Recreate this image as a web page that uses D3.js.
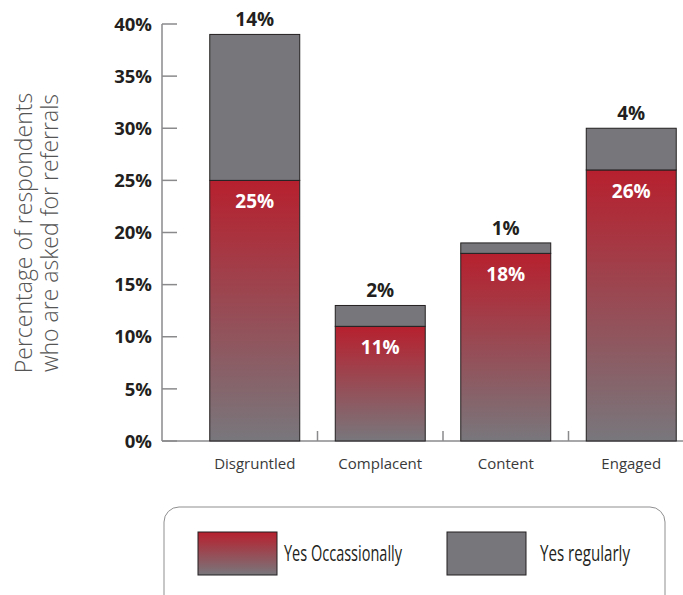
<!DOCTYPE html>
<html>
<head>
<meta charset="utf-8">
<script src="https://cdn.jsdelivr.net/npm/d3@7/dist/d3.min.js"></script>
<style>
  html, body { margin: 0; padding: 0; background: #fff; }
  svg { display: block; }
</style>
</head>
<body>
<script>
// Share of respondents asked for referrals, by customer segment
const categories = ["Disgruntled", "Complacent", "Content", "Engaged"];
const occasionally = [25, 11, 18, 26];
const regularly = [14, 2, 1, 4];
const yTicks = [0, 5, 10, 15, 20, 25, 30, 35, 40];
const seriesNames = ["Yes Occassionally", "Yes regularly"];

const W = 683, H = 595;
const svg = d3.select("body").append("svg").attr("width", W).attr("height", H);

const ink = "#231f20";
const axisGray = "#8a8a8c";
const barGray = "#77777b";

const defs = svg.append("defs");
const grad = defs.append("linearGradient")
  .attr("id", "occGrad").attr("x1", 0).attr("y1", 0).attr("x2", 0).attr("y2", 1);
grad.append("stop").attr("offset", "0%").attr("stop-color", "#b7202e");
grad.append("stop").attr("offset", "100%").attr("stop-color", "#78777c");

const axisX = 162, baseY = 441;
const y = d3.scaleLinear().domain([0, 40]).range([baseY, 24]);
const x = d3.scaleBand().domain(categories).range([192, 694])
  .paddingInner(0.283).paddingOuter(0.1415);

const font = "'Open Sans', 'DejaVu Sans', sans-serif";

// Y axis: line, inward ticks, bold percentage labels
const yAxis = svg.append("g");
yAxis.append("line").attr("x1", axisX).attr("x2", axisX)
  .attr("y1", y(40)).attr("y2", baseY).attr("stroke", axisGray).attr("stroke-width", 1.5);
yAxis.selectAll("line.tick").data(yTicks).join("line").attr("class", "tick")
  .attr("x1", axisX).attr("x2", axisX + 15)
  .attr("y1", d => y(d)).attr("y2", d => y(d))
  .attr("stroke", axisGray).attr("stroke-width", 1.5);
yAxis.selectAll("text").data(yTicks).join("text")
  .attr("x", 152).attr("y", d => y(d)).attr("dy", "0.36em")
  .attr("text-anchor", "end")
  .attr("font-family", font).attr("font-weight", 700).attr("font-size", 18.5)
  .attr("fill", ink).text(d => d + "%");

// X axis baseline and category separators
svg.append("line").attr("x1", axisX).attr("x2", 683)
  .attr("y1", baseY).attr("y2", baseY).attr("stroke", axisGray).attr("stroke-width", 1.5);
const separators = categories.slice(1).map(c => x(c) - x.step() * x.paddingInner() / 2);
svg.selectAll("line.sep").data(separators).join("line").attr("class", "sep")
  .attr("x1", d => d).attr("x2", d => d)
  .attr("y1", baseY).attr("y2", baseY - 10)
  .attr("stroke", axisGray).attr("stroke-width", 1.5);

// Category labels
svg.selectAll("text.cat").data(categories).join("text").attr("class", "cat")
  .attr("x", d => x(d) + x.bandwidth() / 2).attr("y", 469)
  .attr("text-anchor", "middle")
  .attr("font-family", font).attr("font-size", 15).attr("fill", "#3a3a3a")
  .text(d => d);

// Stacked bars
const rows = categories.map((c, i) => ({ c, occ: occasionally[i], reg: regularly[i] }));
const bars = svg.append("g");
bars.selectAll("rect.occ").data(rows).join("rect").attr("class", "occ")
  .attr("x", d => x(d.c)).attr("width", x.bandwidth())
  .attr("y", d => y(d.occ)).attr("height", d => y(0) - y(d.occ))
  .attr("fill", "url(#occGrad)").attr("stroke", ink).attr("stroke-width", 1);
bars.selectAll("rect.reg").data(rows).join("rect").attr("class", "reg")
  .attr("x", d => x(d.c)).attr("width", x.bandwidth())
  .attr("y", d => y(d.occ + d.reg)).attr("height", d => y(d.occ) - y(d.occ + d.reg))
  .attr("fill", barGray).attr("stroke", ink).attr("stroke-width", 1);

// Value labels
bars.selectAll("text.occ").data(rows).join("text").attr("class", "occ")
  .attr("x", d => x(d.c) + x.bandwidth() / 2).attr("y", d => y(d.occ) + 28)
  .attr("text-anchor", "middle")
  .attr("font-family", font).attr("font-weight", 700).attr("font-size", 19)
  .attr("fill", "#fff").text(d => d.occ + "%");
bars.selectAll("text.reg").data(rows).join("text").attr("class", "reg")
  .attr("x", d => x(d.c) + x.bandwidth() / 2).attr("y", d => y(d.occ + d.reg) - 8)
  .attr("text-anchor", "middle")
  .attr("font-family", font).attr("font-weight", 700).attr("font-size", 19)
  .attr("fill", ink).text(d => d.reg + "%");

// Y axis title
const title = svg.append("text")
  .attr("transform", "translate(24,233) rotate(-90)")
  .attr("text-anchor", "middle")
  .attr("font-family", font).attr("font-weight", 300).attr("font-size", 23)
  .attr("fill", "#555");
title.append("tspan").attr("x", 0).attr("dy", "0.35em").text("Percentage of respondents");
title.append("tspan").attr("x", 0).attr("dy", 26).text("who are asked for referrals");

// Legend
const legend = svg.append("g");
legend.append("rect").attr("x", 164).attr("y", 507).attr("width", 501).attr("height", 110)
  .attr("rx", 15).attr("fill", "none").attr("stroke", "#8f8f91").attr("stroke-width", 1);
const legendItems = [
  { name: seriesNames[0], fill: "url(#occGrad)", sx: 198, tx: 284, len: 118 },
  { name: seriesNames[1], fill: barGray, sx: 447, tx: 540, len: 90 }
];
legend.selectAll("rect.sw").data(legendItems).join("rect").attr("class", "sw")
  .attr("x", d => d.sx).attr("y", 532).attr("width", 79).attr("height", 43)
  .attr("fill", d => d.fill).attr("stroke", ink).attr("stroke-width", 1);
legend.selectAll("text").data(legendItems).join("text")
  .attr("x", d => d.tx).attr("y", 554).attr("dy", "0.35em")
  .attr("font-family", font)
  .attr("font-size", 21).attr("fill", ink)
  .attr("textLength", d => d.len).attr("lengthAdjust", "spacingAndGlyphs")
  .text(d => d.name);
</script>
</body>
</html>
